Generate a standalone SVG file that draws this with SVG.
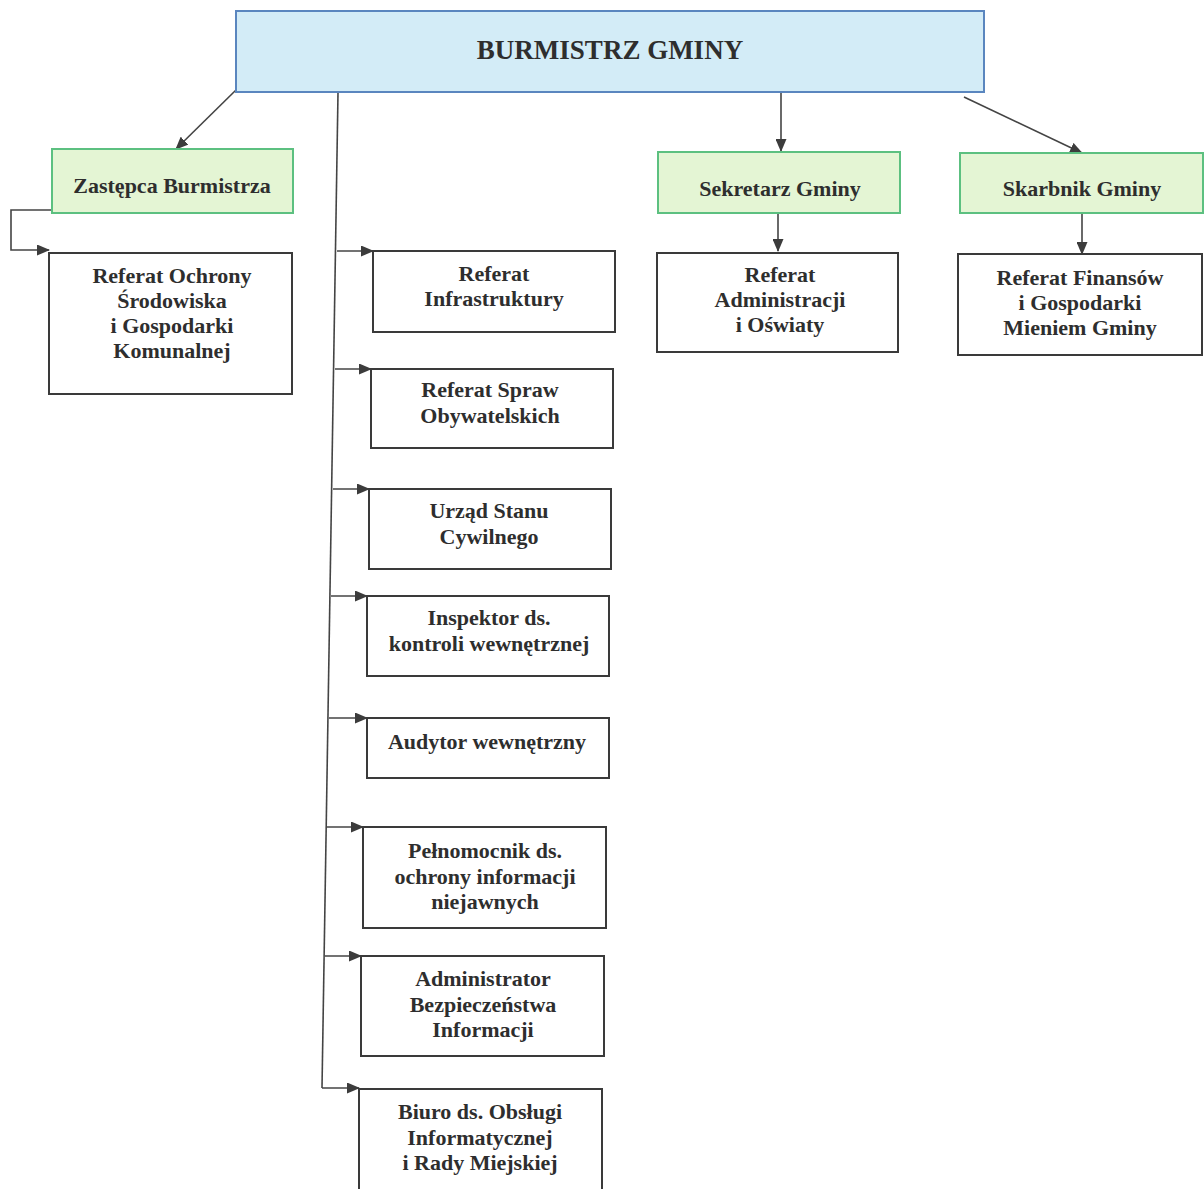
<svg xmlns="http://www.w3.org/2000/svg" width="1204" height="1189" viewBox="0 0 1204 1189">
<style>
.box{fill:#fff;stroke:#3a3a3a;stroke-width:2}
.top{fill:#d3ecf7;stroke:#5a86bf;stroke-width:2}
.grn{fill:#e4f5d4;stroke:#5cc080;stroke-width:2}
text{font-family:"Liberation Serif","Times New Roman",serif;font-weight:bold;font-size:22px;fill:#2e2e2e;text-anchor:middle}
text.big{font-size:27px}
.conn line,.conn polyline{stroke:#444;stroke-width:1.6;fill:none}
</style>
<defs>
<marker id="ah" markerWidth="13" markerHeight="11" refX="12" refY="5.5" orient="auto" markerUnits="userSpaceOnUse">
<path d="M0,0 L13,5.5 L0,11 Z" fill="#3c3c3c"/>
</marker>
</defs>
<g class="conn">
<line x1="236" y1="90" x2="176" y2="149" marker-end="url(#ah)"/>
<polyline points="52,210 11,210 11,250 49,250" marker-end="url(#ah)"/>
<line x1="338" y1="93" x2="322" y2="1088"/>
<line x1="337" y1="251" x2="373" y2="251" marker-end="url(#ah)"/>
<line x1="335" y1="369" x2="371" y2="369" marker-end="url(#ah)"/>
<line x1="333" y1="489" x2="369" y2="489" marker-end="url(#ah)"/>
<line x1="331" y1="596" x2="367" y2="596" marker-end="url(#ah)"/>
<line x1="329" y1="718" x2="367" y2="718" marker-end="url(#ah)"/>
<line x1="327" y1="827" x2="363" y2="827" marker-end="url(#ah)"/>
<line x1="325" y1="956" x2="361" y2="956" marker-end="url(#ah)"/>
<line x1="322" y1="1088" x2="359" y2="1088" marker-end="url(#ah)"/>
<line x1="781" y1="93" x2="781" y2="151" marker-end="url(#ah)"/>
<line x1="964" y1="97" x2="1082" y2="153" marker-end="url(#ah)"/>
<line x1="778" y1="213" x2="778" y2="251" marker-end="url(#ah)"/>
<line x1="1082" y1="213" x2="1082" y2="254" marker-end="url(#ah)"/>
</g>
<g id="burmistrz"><rect class="top" x="236" y="11" width="748" height="81"/><text class="big" x="610" y="59">BURMISTRZ GMINY</text></g>
<g id="zastepca"><rect class="grn" x="52" y="149" width="241" height="64"/><text x="172" y="193">Zastępca Burmistrza</text></g>
<g id="sekretarz"><rect class="grn" x="658" y="152" width="242" height="61"/><text x="780" y="196">Sekretarz Gminy</text></g>
<g id="skarbnik"><rect class="grn" x="960" y="153" width="243" height="60"/><text x="1082" y="196">Skarbnik Gminy</text></g>
<g id="ochrona"><rect class="box" x="49" y="253" width="243" height="141"/><text x="172" y="283">Referat Ochrony</text><text x="172" y="308">Środowiska</text><text x="172" y="333">i Gospodarki</text><text x="172" y="358">Komunalnej</text></g>
<g id="infrastruktura"><rect class="box" x="373" y="251" width="242" height="81"/><text x="494" y="281">Referat</text><text x="494" y="306">Infrastruktury</text></g>
<g id="sprawy"><rect class="box" x="371" y="369" width="242" height="79"/><text x="490" y="397">Referat Spraw</text><text x="490" y="423">Obywatelskich</text></g>
<g id="usc"><rect class="box" x="369" y="489" width="242" height="80"/><text x="489" y="518">Urząd Stanu</text><text x="489" y="544">Cywilnego</text></g>
<g id="inspektor"><rect class="box" x="367" y="596" width="242" height="80"/><text x="489" y="625">Inspektor ds.</text><text x="489" y="651">kontroli wewnętrznej</text></g>
<g id="audytor"><rect class="box" x="367" y="718" width="242" height="60"/><text x="487" y="749">Audytor wewnętrzny</text></g>
<g id="pelnomocnik"><rect class="box" x="363" y="827" width="243" height="101"/><text x="485" y="858">Pełnomocnik ds.</text><text x="485" y="884">ochrony informacji</text><text x="485" y="909">niejawnych</text></g>
<g id="abi"><rect class="box" x="361" y="956" width="243" height="100"/><text x="483" y="986">Administrator</text><text x="483" y="1012">Bezpieczeństwa</text><text x="483" y="1037">Informacji</text></g>
<g id="biuro"><rect class="box" x="359" y="1089" width="243" height="110"/><text x="480" y="1119">Biuro ds. Obsługi</text><text x="480" y="1145">Informatycznej</text><text x="480" y="1170">i Rady Miejskiej</text></g>
<g id="administracja"><rect class="box" x="657" y="253" width="241" height="99"/><text x="780" y="282">Referat</text><text x="780" y="307">Administracji</text><text x="780" y="332">i Oświaty</text></g>
<g id="finanse"><rect class="box" x="958" y="254" width="244" height="101"/><text x="1080" y="285">Referat Finansów</text><text x="1080" y="310">i Gospodarki</text><text x="1080" y="335">Mieniem Gminy</text></g>
</svg>
